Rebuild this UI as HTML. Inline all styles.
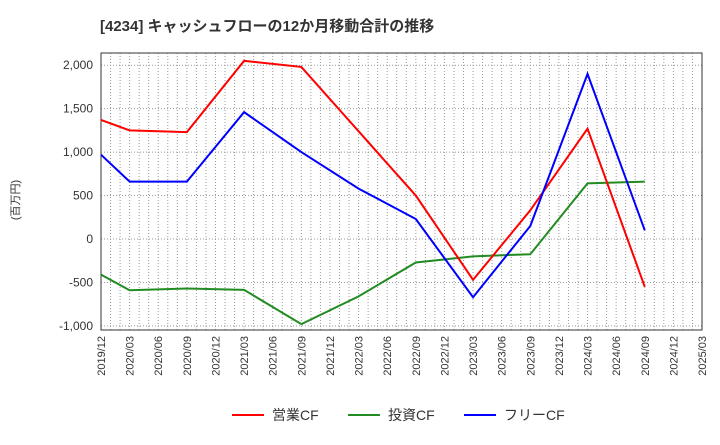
<!DOCTYPE html>
<html><head><meta charset="utf-8"><style>
body{margin:0;background:#fff;font-family:"Liberation Sans","Noto Sans CJK JP",sans-serif}
</style></head><body>
<svg id="c" width="720" height="440" xmlns="http://www.w3.org/2000/svg">
<text x="100" y="31" font-size="15" font-weight="bold" fill="#333">[4234]  キャッシュフローの12か月移動合計の推移</text>
<text transform="translate(19,200) rotate(-90)" font-size="11" fill="#333" text-anchor="middle">(百万円)</text>
<g id="grid"></g><g id="axes"></g><g id="series"></g>
<g>
<line x1="232" y1="415" x2="264" y2="415" stroke="#f00" stroke-width="2"/>
<text x="272" y="420" font-size="14" fill="#333">営業CF</text>
<line x1="348" y1="415" x2="380" y2="415" stroke="#228b22" stroke-width="2"/>
<text x="388" y="420" font-size="14" fill="#333">投資CF</text>
<line x1="464" y1="415" x2="496" y2="415" stroke="#00f" stroke-width="2"/>
<text x="504" y="420" font-size="14" fill="#333">フリーCF</text>
</g>
</svg>
<script>
const categories=["2019/12","2020/03","2020/06","2020/09","2020/12","2021/03","2021/06","2021/09","2021/12","2022/03","2022/06","2022/09","2022/12","2023/03","2023/06","2023/09","2023/12","2024/03","2024/06","2024/09","2024/12","2025/03"];
const yTicks=[-1000,-500,0,500,1000,1500,2000];
const operatingIdx=[0,1,3,5,7,11,13,15,17,19];
const operatingCF=[1370,1250,1230,2050,1980,500,-470,330,1270,-550];
const investingIdx=[0,1,3,5,7,9,11,13,15,17,19];
const investingCF=[-410,-590,-570,-585,-980,-660,-270,-200,-175,640,660];
const freeIdx=[0,1,3,5,7,9,11,13,15,17,19];
const freeCF=[970,660,660,1460,1000,580,230,-670,150,1900,100];
const L=101,R=702,T=53,B=330;
const x=i=>L+(R-L)*i/(categories.length-1);
const y=v=>239-v*0.0869;
const NS="http://www.w3.org/2000/svg";
function mk(p,t,a){const e=document.createElementNS(NS,t);for(const k in a)e.setAttribute(k,a[k]);p.appendChild(e);return e;}
const g=document.getElementById('grid'),ax=document.getElementById('axes'),s=document.getElementById('series');
for(let m=1;m<(categories.length-1)*3;m++){const xx=L+(R-L)*m/((categories.length-1)*3);
const l=mk(g,'line',{x1:xx,x2:xx,y1:T,y2:B,stroke:'#999','stroke-dasharray':'1,2'});

}
yTicks.forEach(v=>{const l=mk(g,'line',{x1:L,x2:R,y1:y(v),y2:y(v),stroke:'#999','stroke-dasharray':'1,2'});


const t=mk(ax,'text',{x:L-8,y:y(v)+4,'font-size':12,fill:'#333','text-anchor':'end'});t.textContent=v.toLocaleString('en-US');

});
const fr=mk(ax,'rect',{x:L,y:T,width:R-L,height:B-T,fill:'none',stroke:'#333'});


categories.forEach((c,i)=>{const t=mk(ax,'text',{transform:`translate(${x(i)+4},${B+6}) rotate(-90)`,'font-size':11,fill:'#333','text-anchor':'end'});t.textContent=c;

});
function line(idx,vals,col,name){const p=mk(s,'polyline',{points:idx.map((i,k)=>x(i)+','+y(vals[k])).join(' '),fill:'none',stroke:col,'stroke-width':2});

}
line(investingIdx,investingCF,'#228b22','investing-cf-line');
line(operatingIdx,operatingCF,'#f00','operating-cf-line');
line(freeIdx,freeCF,'#00f','free-cf-line');
</script>
</body></html>
